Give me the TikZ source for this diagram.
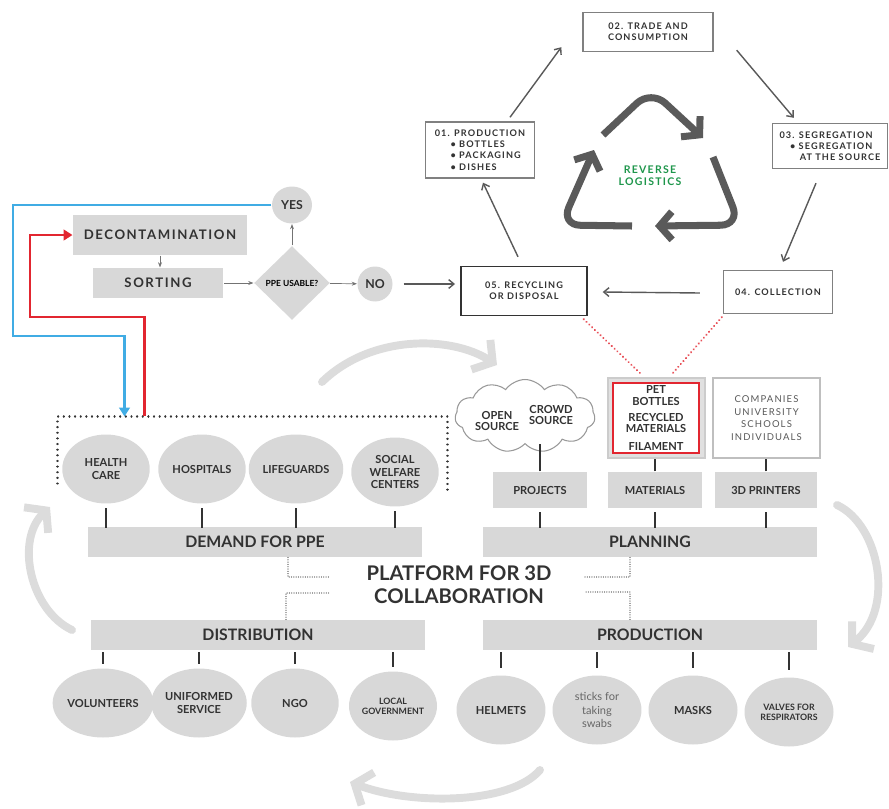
\documentclass[tikz,border=0pt]{standalone}
\usepackage{fontspec}
\setmainfont{Lato}
\newfontfamily\widefont[LetterSpace=12]{Lato}
\usetikzlibrary{arrows.meta,shapes.geometric,shapes.symbols}

\definecolor{barfill}{RGB}{216,216,216}
\definecolor{darktext}{RGB}{50,50,50}
\definecolor{swoosh}{RGB}{220,220,220}
\definecolor{cycgray}{RGB}{90,90,90}
\definecolor{loopblue}{RGB}{64,172,228}
\definecolor{loopred}{RGB}{226,38,48}
\definecolor{rlgreen}{RGB}{30,150,75}

\begin{document}
\begin{tikzpicture}[x=0.02cm,y=-0.02cm,>=Stealth,semithick]
  \tikzstyle{cycbox}=[draw=black!50,fill=white,thick,align=center,text=black!80,font=\widefont\bfseries\fontsize{5.2}{6.4}\selectfont]
  \tikzstyle{cyc}=[draw=black!65,thick,-{Straight Barb[length=3pt,width=5pt]}]
  \tikzstyle{recyc}=[draw=cycgray,line width=4pt,rounded corners=11pt,-{Straight Barb[length=7pt,width=16pt]}]
  \tikzstyle{flowbox}=[fill=barfill,text=darktext,font=\widefont\bfseries\fontsize{7.5}{9}\selectfont]
  \tikzstyle{flowarrow}=[->,draw=black!55,thin,>={Stealth[length=3pt]}]
  \tikzstyle{pill}=[ellipse,fill=barfill,text=darktext,align=center,inner sep=0pt,minimum width=1.75cm,minimum height=1.38cm,font=\bfseries\fontsize{6.3}{7}\selectfont]
  \tikzstyle{bar}=[fill=barfill,text=darktext,minimum width=6.7cm,minimum height=0.6cm,font=\bfseries\fontsize{9}{10}\selectfont]
  \tikzstyle{toolbox}=[fill=barfill,text=darktext,minimum width=1.88cm,minimum height=0.72cm,font=\bfseries\fontsize{6.3}{7}\selectfont]
  \tikzstyle{stub}=[draw=black!80,line width=1.1pt]
  \tikzstyle{swooshline}=[draw=swoosh,line width=4.5pt,line cap=round,-{Straight Barb[length=8pt,width=20pt]}]
  \tikzstyle{reddots}=[draw=loopred!80,line width=1.3pt,dash pattern=on 0.01pt off 2.2pt,line cap=round]
  \tikzstyle{platdots}=[draw=black!45,line width=0.7pt,dash pattern=on 0.01pt off 1.3pt,line cap=round]

  \useasboundingbox (0,0) rectangle (889,808);

  % reverse logistics cycle
  \node[cycbox,minimum width=2.6cm,minimum height=0.78cm] (trade) at (648,32) {02. TRADE AND\\CONSUMPTION};
  \node[cycbox,minimum width=2.18cm,minimum height=1.12cm,align=left] (prodA) at (480,150)
    {01. PRODUCTION\\\hspace{9pt}\textbullet\ BOTTLES\\\hspace{9pt}\textbullet\ PACKAGING\\\hspace{9pt}\textbullet\ DISHES};
  \node[cycbox,minimum width=2.3cm,minimum height=0.9cm,align=left] (segr) at (830,146)
    {03. SEGREGATION\\\hspace{6pt}\textbullet\ SEGREGATION\\\hspace{11.5pt}AT THE SOURCE};
  \node[cycbox,minimum width=2.18cm,minimum height=0.86cm] (coll) at (778,292) {04. COLLECTION};
  \node[cycbox,draw=black!80,minimum width=2.52cm,minimum height=0.98cm] (rec) at (524,291) {05. RECYCLING\\OR DISPOSAL};
  \node[text=rlgreen,align=center,font=\widefont\bfseries\fontsize{6}{7}\selectfont] (revlog) at (650,176) {REVERSE\\LOGISTICS};

  \draw[cyc] ([shift={(30,-4)}]prodA.north) -- ([shift={(-21,-5)}]trade.south west);
  \draw[cyc] ([shift={(23,-2)}]trade.south east) -- ([shift={(22,-5)}]segr.north west);
  \draw[cyc] ([shift={(-14,14)}]segr.south) -- ([shift={(5,-8)}]coll.north);
  \draw[cyc] ([shift={(-23,1)}]coll.west) -- ([shift={(15,1)}]rec.east);
  \draw[cyc] ([shift={(-6,-9)}]rec.north) -- ([shift={(3,4)}]prodA.south);

  % recycling sign
  \draw[recyc] (603,135) -- (651,90) -- (703,138);
  \draw[recyc] (713,157) -- (740,225) -- (655,226);
  \draw[recyc] (632,226) -- (561,225) -- (594,150);

  % PPE check
  \node[flowbox,minimum width=3.48cm,minimum height=0.8cm] (decon) at (160,235) {DECONTAMINATION};
  \node[flowbox,minimum width=2.62cm,minimum height=0.6cm] (sort) at (158,283) {SORTING};
  \node[flowbox,diamond,aspect=1,inner sep=0pt,minimum width=1.52cm,minimum height=1.48cm,text=black,font=\bfseries\fontsize{4.8}{5}\selectfont] (usable) at (292,283) {PPE USABLE?};
  \node[flowbox,ellipse,inner sep=0pt,minimum width=0.8cm,minimum height=0.74cm,font=\bfseries\fontsize{7}{8}\selectfont] (yes) at (292,205) {YES};
  \node[flowbox,ellipse,inner sep=0pt,minimum width=0.7cm,minimum height=0.7cm,font=\bfseries\fontsize{7}{8}\selectfont] (no) at (375,284) {NO};

  \draw[flowarrow] (decon.south) -- (decon.south |- sort.north);
  \draw[flowarrow] (sort) -- (usable);
  \draw[flowarrow] (usable) -- (yes);
  \draw[flowarrow] (usable) -- (no);
  \draw[cyc,shorten <=6pt,shorten >=3pt] (no.east) -- (no.east -| rec.west);

  % demand
  \node (zone) [minimum width=7.78cm,minimum height=1.52cm] at (252.5,455) {};
  \draw[draw=black!80,line width=1.3pt,dash pattern=on 0.01pt off 3.2pt,line cap=round]
    ([yshift=0.2cm]zone.south west) -- (zone.north west) -- (zone.north east) -- (zone.south east);

  \coordinate (bl1) at (13,336);
  \coordinate (rl1) at (30,317);
  \draw[loopblue,line width=1.2pt,-{Triangle[length=5pt,width=6pt]}] (yes.west) -| (bl1) -| ([xshift=1.34cm]zone.north west);
  \draw[loopred,line width=1.2pt,-{Triangle[length=5pt,width=6pt]}] ([xshift=1.74cm]zone.north west) |- (rl1) |- (decon.west);

  \node[pill] (health) at (106,469) {HEALTH\\CARE};
  \node[pill] (hosp) at (202,469) {HOSPITALS};
  \node[pill] (lifeg) at (296,469) {LIFEGUARDS};
  \node[pill] (social) at (395,472) {SOCIAL\\WELFARE\\CENTERS};
  \node[bar] (demand) at (255,542) {DEMAND FOR PPE};
  \foreach \e in {health,hosp,lifeg,social}
    \draw[stub] (\e.south) ++(0,4) -- ([yshift=-1pt]\e.south |- demand.north);

  % planning
  \node[cloud,cloud puffs=11,cloud puff arc=110,aspect=2,draw=black!40,fill=white,minimum width=2.8cm,minimum height=1.46cm] (cloud) at (525,416) {};
  \node[text=darktext,align=center,font=\bfseries\fontsize{6.3}{6.5}\selectfont] (opensrc) at (497,421) {OPEN\\SOURCE};
  \node[text=darktext,align=center,font=\bfseries\fontsize{6.3}{6.5}\selectfont] (crowdsrc) at (551,415) {CROWD\\SOURCE};
  \node[draw=black!20,fill=black!12,minimum width=1.94cm,minimum height=1.6cm] (petbg) at (656.5,418) {};
  \node[draw=loopred,thick,fill=white,minimum width=1.72cm,minimum height=1.4cm,inner sep=1pt,align=center,text=darktext,font=\bfseries\fontsize{6.3}{6.6}\selectfont] (pet) at (656,418)
    {PET\\BOTTLES\\[2.5pt]RECYCLED\\MATERIALS\\[3.5pt]FILAMENT};
  \node[draw=black!25,fill=white,minimum width=2.14cm,minimum height=1.6cm,align=center,text=black!65,font=\widefont\fontsize{5.4}{7.2}\selectfont] (comp) at (766.5,418)
    {COMPANIES\\UNIVERSITY\\SCHOOLS\\INDIVIDUALS};

  \node[toolbox] (proj) at (540,490) {PROJECTS};
  \node[toolbox] (mater) at (655,490) {MATERIALS};
  \node[toolbox,minimum width=2.04cm] (printers) at (766,490) {3D PRINTERS};
  \node[bar] (planning) at (650,542) {PLANNING};

  \draw[stub] (proj.north) -- (proj.north |- cloud.south);
  \draw[stub] (mater.north) -- (mater.north |- petbg.south);
  \draw[stub] (printers.north) -- (printers.north |- comp.south);
  \foreach \e in {proj,mater,printers}
    \draw[stub] ([yshift=-2pt]\e.south) -- ([yshift=-1pt]\e.south |- planning.north);

  \draw[reddots] ([shift={(-4,3)}]rec.south east) -- ([shift={(-16,-4)}]petbg.north);
  \draw[reddots] ([shift={(-1,3)}]coll.south west) -- ([shift={(16,-4)}]petbg.north);

  % platform
  \node[text=darktext,align=center,font=\bfseries\fontsize{11.5}{13}\selectfont] (platform) at (459,585) {PLATFORM FOR 3D\\COLLABORATION};
  \coordinate (pdl1) at (330,577);
  \coordinate (pdl2) at (330,593);
  \coordinate (pdr1) at (585,577);
  \coordinate (pdr2) at (585,592);

  % distribution
  \node[bar] (distr) at (258,635) {DISTRIBUTION};
  \node[pill] (volun) at (103,703) {VOLUNTEERS};
  \node[pill] (unif) at (199,703) {UNIFORMED\\SERVICE};
  \node[pill] (ngo) at (295,703) {NGO};
  \node[pill,font=\bfseries\fontsize{5}{5.6}\selectfont] (localgov) at (393,706) {LOCAL\\GOVERNMENT};
  \foreach \e in {volun,unif,ngo,localgov}
    \draw[stub] ([yshift=-1pt]\e.north |- distr.south) -- ([yshift=2pt]\e.north);

  % production
  \node[bar] (prodbar) at (650,635) {PRODUCTION};
  \node[pill,minimum width=1.78cm] (helmets) at (501,710) {HELMETS};
  \node[pill,minimum width=1.78cm,font=\fontsize{6.3}{7.5}\selectfont,text=black!60] (sticks) at (597,710) {sticks for\\taking\\swabs};
  \node[pill,minimum width=1.78cm] (masks) at (693,710) {MASKS};
  \node[pill,minimum width=1.78cm,font=\bfseries\fontsize{5}{5.6}\selectfont] (valves) at (789,712) {VALVES FOR\\RESPIRATORS};
  \foreach \e in {helmets,sticks,masks,valves}
    \draw[stub] ([yshift=-1pt]\e.north |- prodbar.south) -- ([yshift=4pt]\e.north);

  \draw[platdots] (demand.south) ++(33,0) |- (pdl1);
  \draw[platdots] (distr.north) ++(28,0) |- (pdl2);
  \draw[platdots] (planning.south) ++(-20,0) |- (pdr1);
  \draw[platdots] (prodbar.north) ++(-20,0) |- (pdr2);

  % big arrows round the platform
  \draw[swooshline] (322,382) .. controls (370,335) and (450,335) .. (497,365);
  \draw[swooshline] (837,505) .. controls (880,525) and (895,610) .. (848,647);
  \draw[swooshline] (540,770) .. controls (510,805) and (410,805) .. (350,782);
  \draw[swooshline] (72,630) .. controls (30,610) and (15,540) .. (50,507);
\end{tikzpicture}
\end{document}
